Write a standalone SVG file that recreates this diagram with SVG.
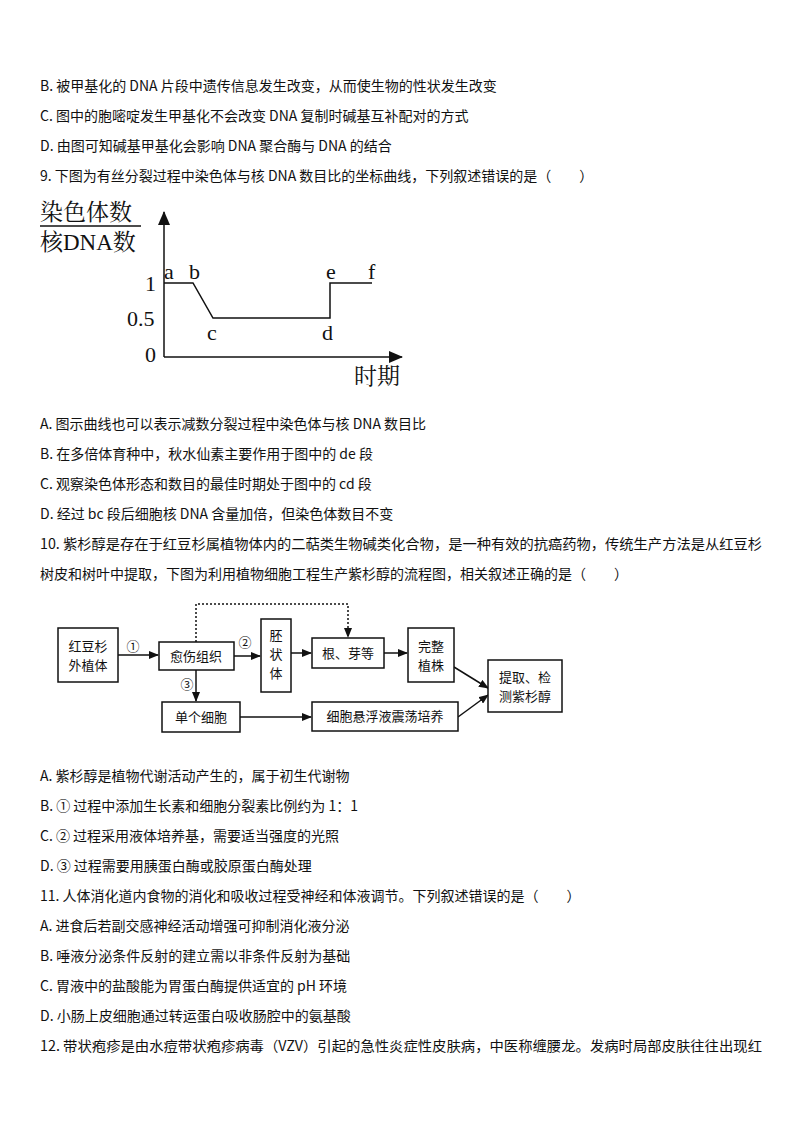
<svg xmlns="http://www.w3.org/2000/svg" width="800" height="1132" viewBox="0 0 800 1132">
<style>
.t{font-family:"Noto Sans CJK SC","Noto Sans",sans-serif;font-size:14px;fill:#111}
.s{font-family:"Liberation Serif","Noto Serif CJK SC","Noto Sans CJK SC",serif;fill:#111}
.b{fill:#fff;stroke:#111;stroke-width:1.5}
.n{font-family:"Noto Sans CJK SC",sans-serif;font-size:13px;fill:#111;text-anchor:middle}
.l{stroke:#111;stroke-width:1.5;fill:none}
</style>
<defs>
<marker id="ar" markerWidth="10" markerHeight="8" refX="9" refY="4" orient="auto" markerUnits="userSpaceOnUse"><path d="M0,0 L10,4 L0,8 Z" fill="#111"/></marker>
<marker id="ab" markerWidth="14" markerHeight="12" refX="13" refY="6" orient="auto" markerUnits="userSpaceOnUse"><path d="M0,0 L14,6 L0,12 Z" fill="#111"/></marker>
</defs>
<rect width="800" height="1132" fill="#fff"/>
<g id="text">
<text class="t" x="40" y="91">B. 被甲基化的 DNA 片段中遗传信息发生改变，从而使生物的性状发生改变</text>
<text class="t" x="40" y="121">C. 图中的胞嘧啶发生甲基化不会改变 DNA 复制时碱基互补配对的方式</text>
<text class="t" x="40" y="151">D. 由图可知碱基甲基化会影响 DNA 聚合酶与 DNA 的结合</text>
<text class="t" x="40" y="181">9. 下图为有丝分裂过程中染色体与核 DNA 数目比的坐标曲线，下列叙述错误的是（　　）</text>
<text class="t" x="40" y="429">A. 图示曲线也可以表示减数分裂过程中染色体与核 DNA 数目比</text>
<text class="t" x="40" y="459">B. 在多倍体育种中，秋水仙素主要作用于图中的 de 段</text>
<text class="t" x="40" y="489">C. 观察染色体形态和数目的最佳时期处于图中的 cd 段</text>
<text class="t" x="40" y="519">D. 经过 bc 段后细胞核 DNA 含量加倍，但染色体数目不变</text>
<text class="t" x="40" y="549" textLength="722" lengthAdjust="spacingAndGlyphs">10. 紫杉醇是存在于红豆杉属植物体内的二萜类生物碱类化合物，是一种有效的抗癌药物，传统生产方法是从红豆杉</text>
<text class="t" x="40" y="579">树皮和树叶中提取，下图为利用植物细胞工程生产紫杉醇的流程图，相关叙述正确的是（　　）</text>
<text class="t" x="40" y="781">A. 紫杉醇是植物代谢活动产生的，属于初生代谢物</text>
<text class="t" x="40" y="811">B. ① 过程中添加生长素和细胞分裂素比例约为 1：1</text>
<text class="t" x="40" y="841">C. ② 过程采用液体培养基，需要适当强度的光照</text>
<text class="t" x="40" y="871">D. ③ 过程需要用胰蛋白酶或胶原蛋白酶处理</text>
<text class="t" x="40" y="901">11. 人体消化道内食物的消化和吸收过程受神经和体液调节。下列叙述错误的是（　　）</text>
<text class="t" x="40" y="931">A. 进食后若副交感神经活动增强可抑制消化液分泌</text>
<text class="t" x="40" y="961">B. 唾液分泌条件反射的建立需以非条件反射为基础</text>
<text class="t" x="40" y="991">C. 胃液中的盐酸能为胃蛋白酶提供适宜的 pH 环境</text>
<text class="t" x="40" y="1021">D. 小肠上皮细胞通过转运蛋白吸收肠腔中的氨基酸</text>
<text class="t" x="40" y="1051" textLength="722" lengthAdjust="spacingAndGlyphs">12. 带状疱疹是由水痘带状疱疹病毒（VZV）引起的急性炎症性皮肤病，中医称缠腰龙。发病时局部皮肤往往出现红</text>
</g>
<g id="chart">
<text class="s" x="40" y="220" font-size="23">染色体数</text>
<line x1="40" y1="226" x2="141" y2="226" stroke="#111" stroke-width="1.5"/>
<text class="s" x="40" y="250" font-size="23">核DNA数</text>
<line class="l" x1="164" y1="357" x2="164" y2="212" marker-end="url(#ab)"/>
<line class="l" x1="164" y1="357" x2="402" y2="357" marker-end="url(#ab)"/>
<polyline class="l" stroke-width="2" points="164,283 193,283 213,318 330,318 330,283 372,283"/>
<g class="s" font-size="22">
<text x="145" y="291">1</text>
<text x="127" y="326">0.5</text>
<text x="145" y="362">0</text>
<text x="164" y="279">a</text>
<text x="189" y="279">b</text>
<text x="207" y="340">c</text>
<text x="322" y="340">d</text>
<text x="326" y="279">e</text>
<text x="368" y="279">f</text>
<text x="354" y="384" font-size="23">时期</text>
</g>
</g>
<g id="connectors">
<polyline class="l" stroke-dasharray="2,2" points="196,642 196,604 348,604 348,637" marker-end="url(#ar)"/>
<line class="l" x1="118" y1="655" x2="158" y2="655" marker-end="url(#ar)"/>
<line class="l" x1="234" y1="656" x2="260" y2="656" marker-end="url(#ar)"/>
<line class="l" x1="291" y1="653" x2="311" y2="653" marker-end="url(#ar)"/>
<line class="l" x1="384" y1="653" x2="407" y2="653" marker-end="url(#ar)"/>
<line class="l" x1="196" y1="670" x2="196" y2="701" marker-end="url(#ar)"/>
<line class="l" x1="240" y1="717" x2="311" y2="717" marker-end="url(#ar)"/>
<line class="l" x1="454" y1="667" x2="488" y2="688" marker-end="url(#ar)"/>
<line class="l" x1="458" y1="717" x2="488" y2="695" marker-end="url(#ar)"/>
<text class="n" x="133" y="651">①</text>
<text class="n" x="245" y="647">②</text>
<text class="n" x="187" y="689">③</text>
</g>
<g id="n1"><rect class="b" x="58" y="628" width="60" height="54"/><text class="n" x="88" y="651">红豆杉</text><text class="n" x="88" y="670">外植体</text></g>
<g id="n2"><rect class="b" x="159" y="642" width="75" height="28"/><text class="n" x="196" y="661">愈伤组织</text></g>
<g id="n3"><rect class="b" x="261" y="619" width="30" height="73"/><text class="n" x="276" y="640">胚</text><text class="n" x="276" y="659">状</text><text class="n" x="276" y="678">体</text></g>
<g id="n4"><rect class="b" x="312" y="638" width="72" height="30"/><text class="n" x="348" y="658">根、芽等</text></g>
<g id="n5"><rect class="b" x="408" y="628" width="46" height="54"/><text class="n" x="431" y="651">完整</text><text class="n" x="431" y="670">植株</text></g>
<g id="n6"><rect class="b" x="488" y="660" width="74" height="52"/><text class="n" x="525" y="682">提取、检</text><text class="n" x="525" y="701">测紫杉醇</text></g>
<g id="n7"><rect class="b" x="162" y="702" width="78" height="30"/><text class="n" x="201" y="722">单个细胞</text></g>
<g id="n8"><rect class="b" x="312" y="702" width="146" height="29"/><text class="n" x="385" y="721">细胞悬浮液震荡培养</text></g>
</svg>
